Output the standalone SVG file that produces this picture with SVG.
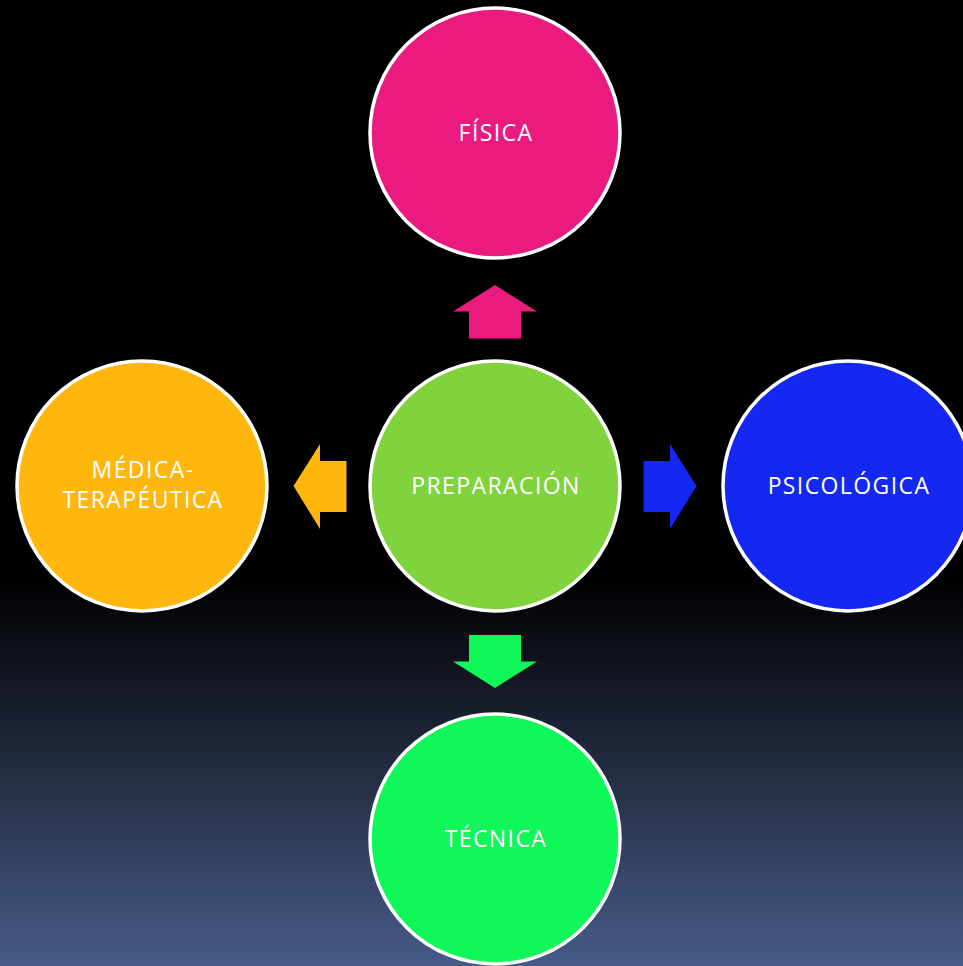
<svg xmlns="http://www.w3.org/2000/svg" width="963" height="966" viewBox="0 0 963 966">
<defs>
<linearGradient id="bg" x1="0" y1="0" x2="0" y2="1">
<stop offset="0" stop-color="#000000"/>
<stop offset="0.6" stop-color="#000000"/>
<stop offset="0.8" stop-color="#242d42"/>
<stop offset="1" stop-color="#475b88"/>
</linearGradient>
<style>
.c{stroke:#ffffff;stroke-width:3.5}
.t{font-family:"Open Sans","Noto Sans","Liberation Sans",sans-serif;font-size:23px;letter-spacing:1.4px;fill:#ffffff;text-anchor:middle}
</style>
</defs>
<rect x="0" y="0" width="963" height="966" fill="url(#bg)"/>
<g id="connectors">
<polygon fill="#ea1a7f" points="495,285 537,311.5 521,311.5 521,338.5 469,338.5 469,311.5 453,311.5"/>
<polygon fill="#ffb60d" points="293.5,486 320,444 320,461 346.5,461 346.5,512 320,512 320,529"/>
<polygon fill="#1428f2" points="696.5,486 670,444 670,461 643.5,461 643.5,512 670,512 670,529"/>
<polygon fill="#10f75a" points="495,688 537,661.5 521,661.5 521,635 469,635 469,661.5 453,661.5"/>
</g>
<g id="fisica">
<circle class="c" cx="495" cy="133" r="125" fill="#ea1a7f"/>
<text class="t" x="496" y="141">FÍSICA</text>
</g>
<g id="preparacion">
<circle class="c" cx="495" cy="486" r="125" fill="#80d33d"/>
<text class="t" x="496" y="494">PREPARACIÓN</text>
</g>
<g id="medica">
<circle class="c" cx="142" cy="486" r="125" fill="#ffb60d"/>
<text class="t" x="143" y="478">MÉDICA-</text>
<text class="t" x="143" y="508">TERAPÉUTICA</text>
</g>
<g id="psicologica">
<circle class="c" cx="848" cy="486" r="125" fill="#1428f2"/>
<text class="t" x="849" y="494">PSICOLÓGICA</text>
</g>
<g id="tecnica">
<circle class="c" cx="495" cy="839" r="125" fill="#10f75a"/>
<text class="t" x="496" y="847">TÉCNICA</text>
</g>
</svg>
